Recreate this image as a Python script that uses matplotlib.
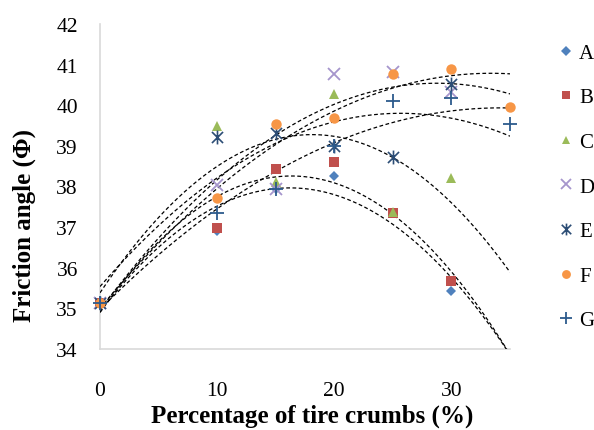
import numpy as np
import matplotlib
matplotlib.use("Agg")
import matplotlib.pyplot as plt
from matplotlib.path import Path

plt.rcParams['font.family'] = ['Liberation Serif', 'DejaVu Serif']

x6 = [0, 10, 15, 20, 25, 30]
x7 = [0, 10, 15, 20, 25, 30, 35]
series_names = ["A", "B", "C", "D", "E", "F", "G"]
A = [35.13, 36.90, 37.94, 38.25, 37.35, 35.43]
B = [35.13, 36.99, 38.43, 38.61, 37.35, 35.68]
C = [35.13, 39.49, 38.10, 40.27, 37.38, 38.22]
D = [35.13, 38.03, 37.94, 40.77, 40.81, 40.32]
E = [35.13, 39.21, 39.31, 38.99, 38.73, 40.52]
F = [35.13, 37.71, 39.54, 39.68, 40.77, 40.89, 39.95]
G = [35.13, 37.36, 37.94, 38.99, 40.11, 40.17, 39.55]
xs = [x6, x6, x6, x6, x6, x7, x7]
ys = [A, B, C, D, E, F, G]

xticks = [0, 10, 20, 30]
yticks = [34, 35, 36, 37, 38, 39, 40, 41, 42]

ast = Path([(0, -1), (0, 1), (-0.8, -0.8), (0.8, 0.8), (-0.8, 0.8), (0.8, -0.8)],
           [Path.MOVETO, Path.LINETO, Path.MOVETO, Path.LINETO, Path.MOVETO, Path.LINETO])

styles = [
    dict(marker='D', color='#4F81BD', ms=5.5, mew=0),
    dict(marker='s', color='#C0504D', ms=7, mew=0),
    dict(marker='^', color='#9BBB59', ms=7.5, mew=0),
    dict(marker='x', color='#A595CC', ms=8, mew=1.3),
    dict(marker=ast, color='#2C4D75', ms=10, mew=1.2),
    dict(marker='o', color='#F79646', ms=7.5, mew=0),
    dict(marker='+', color='#2C5A8C', ms=10, mew=1.3),
]

fig = plt.figure(figsize=(5.94, 4.31), dpi=100)
ax = fig.add_axes([100/594, 1-350/431, 410/594, 325/431])

xf = np.linspace(0, 35, 300)
for xv, yv in zip(xs, ys):
    c = np.polyfit(xv, yv, 2)
    ax.plot(xf, np.polyval(c, xf), color='black', ls=(0, (3, 2)), lw=0.9, zorder=3)

handles = []
for name, xv, yv, st in zip(series_names, xs, ys, styles):
    h, = ax.plot(xv, yv, ls='none', marker=st['marker'], color=st['color'],
                 ms=st['ms'], mew=st['mew'], label=name, zorder=4, clip_on=False)
    handles.append(h)

ax.set_xlim(0, 35)
ax.set_ylim(34, 42)
ax.set_xticks(xticks)
ax.set_yticks(yticks)
ax.tick_params(length=0, labelsize=15.5)
ax.tick_params(axis='x', pad=23)
ax.tick_params(axis='y', pad=16)
for s in ['top', 'right']:
    ax.spines[s].set_visible(False)
for s in ['left', 'bottom']:
    ax.spines[s].set_color('#D9D9D9')
    ax.spines[s].set_linewidth(1.2)

fig.text(24/594, 1-226/431, 'Friction angle (Φ)', rotation=90, ha='center', va='center',
         fontsize=18, fontweight='bold')
fig.text(312/594, 1-416/431, 'Percentage of tire crumbs (%)', ha='center', va='center',
         fontsize=18, fontweight='bold')

leg = fig.legend(handles=handles, loc='upper left', bbox_to_anchor=(550/594, 1-36/431),
                 frameon=False, fontsize=15, handlelength=0.7, handletextpad=0.3,
                 labelspacing=1.2, borderaxespad=0, markerscale=0.85)

fig.savefig('out.png', dpi=100)
